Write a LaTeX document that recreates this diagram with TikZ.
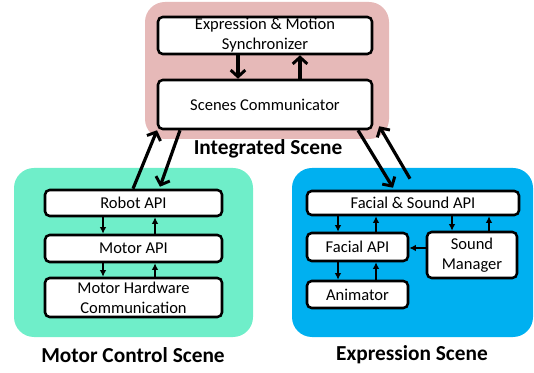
\documentclass[tikz,border=0pt]{standalone}
\usepackage{fontspec}
\setmainfont{Carlito}
\usetikzlibrary{arrows.meta,calc}
\definecolor{intpink}{HTML}{E6B9B8}
\definecolor{motaqua}{HTML}{6FEEC9}
\definecolor{expblue}{HTML}{00B0F0}
\tikzset{
  scenebg/.style={fill=#1, draw=none, rounded corners=15pt},
  box/.style={draw=black, fill=white, line width=1.9pt, rounded corners=3.5pt, inner sep=0pt, align=center,
    font=\fontsize{12.4}{15}\selectfont},
  lbl/.style={font=\bfseries\fontsize{16}{19}\selectfont, inner sep=0pt},
  small/.style={-{Latex[length=5pt,width=5pt]}, line width=1pt},
  thick arr/.style={-{Straight Barb[length=5pt,width=11pt,line width=2.2pt]}, line width=2.4pt},
}
\begin{document}
\begin{tikzpicture}[x=0.75pt,y=-0.75pt]
\useasboundingbox (0,0) rectangle (534,373);
% backgrounds
\fill[scenebg=intpink] (145,2) rectangle (389,139);
\fill[scenebg=motaqua] (14,168) rectangle (253,337);
\fill[scenebg=expblue] (292,168) rectangle (533,337);
% integrated
\node[box, minimum width=160.5pt, minimum height=27.75pt] (sync) at (265,35.5) {Expression \& Motion\\Synchronizer};
\node[box, minimum width=160.5pt, minimum height=36.75pt] (comm) at (265,104.5) {Scenes Communicator};
\node[lbl] (intl) at (268,149) {Integrated Scene};
% motor
\node[box, minimum width=132.75pt, minimum height=19.5pt] (robot) at (133.5,203) {Robot API};
\node[box, minimum width=132.75pt, minimum height=20.25pt] (motor) at (133.5,248.5) {Motor API};
\node[box, minimum width=132.75pt, minimum height=29.25pt] (mhc) at (133.5,297.5) {Motor Hardware\\Communication};
\node[lbl] (motl) at (133,355) {Motor Control Scene};
% expression
\node[box, minimum width=159pt, minimum height=18pt] (fs) at (413,203) {Facial \& Sound API};
\node[box, minimum width=75.75pt, minimum height=21pt] (facial) at (357.5,247) {Facial API};
\node[box, minimum width=67.5pt, minimum height=34.5pt] (sound) at (472,255) {Sound\\Manager};
\node[box, minimum width=75.75pt, minimum height=20.25pt] (anim) at (357.5,294.5) {Animator};
\node[lbl] (expl) at (412,355) {Expression Scene};
% sync arrows
\draw[thick arr] (sync.south -| 238,0) -- (comm.north -| 238,0);
\draw[thick arr] (comm.north -| 300,0) -- (sync.south -| 300,0);
% motor small arrows
\draw[small] (robot.south -| 103,0) -- (motor.north -| 103,0);
\draw[small] (motor.north -| 155,0) -- (robot.south -| 155,0);
\draw[small] (motor.south -| 103,0) -- (mhc.north -| 103,0);
\draw[small] (mhc.north -| 155,0) -- (motor.south -| 155,0);
% expression small arrows
\draw[small] (fs.south -| 338,0) -- (facial.north -| 338,0);
\draw[small] (facial.north -| 376,0) -- (fs.south -| 376,0);
\draw[small] (facial.south -| 338,0) -- (anim.north -| 338,0);
\draw[small] (anim.north -| 376,0) -- (facial.south -| 376,0);
\draw[small] (fs.south -| 452,0) -- (sound.north -| 452,0);
\draw[small] (sound.north -| 489,0) -- (fs.south -| 489,0);
\draw[small] (sound.west |- 0,248) -- (facial.east |- 0,248);
% inter-scene arrows
\draw[thick arr] (robot.north -| 133,0) -- (comm.south -| 157,0);
\draw[thick arr] (comm.south -| 180,0) -- ($(robot.north -| 160,0)+(0,-2)$);
\draw[thick arr] (comm.south -| 358,0) -- ($(fs.north -| 393,0)+(0,-2)$);
\coordinate (rstart) at ($(fs.north -| 410,0)+(0,-11)$);
\draw[thick arr] (rstart) -- ($(comm.south east)+(6,-4)$);
\end{tikzpicture}
\end{document}
